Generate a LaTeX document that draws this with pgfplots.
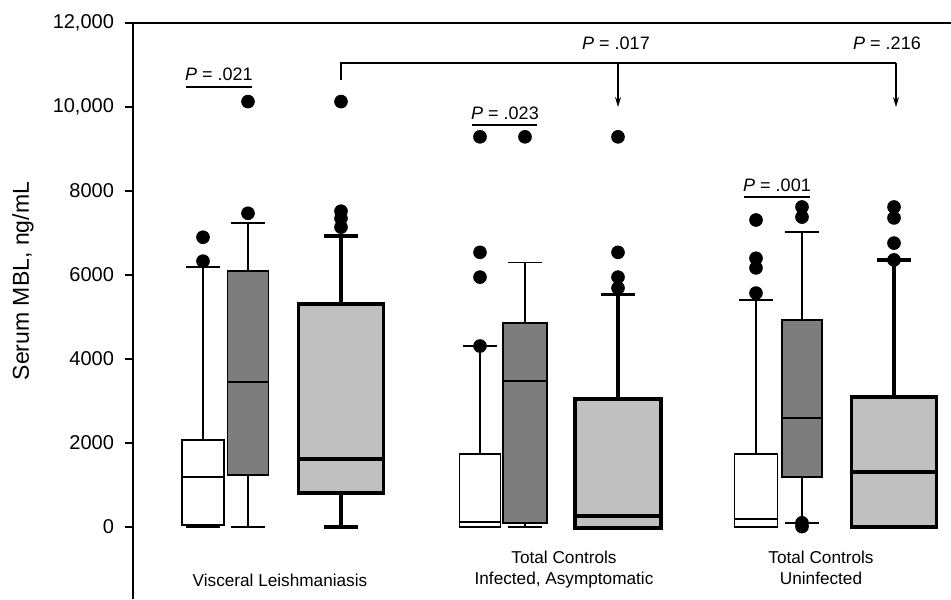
\documentclass[border=0pt]{standalone}
\usepackage{fontspec}
\setmainfont{Liberation Sans}
\usepackage{pgfplots}
\pgfplotsset{compat=1.18}
\usepgfplotslibrary{statistics}
\usetikzlibrary{arrows.meta}
\definecolor{darkbox}{RGB}{125,125,125}
\definecolor{lightbox}{RGB}{192,192,192}

\begin{document}
\begin{tikzpicture}[
    grp/.style={anchor=base, font=\fontsize{8.6}{10}\selectfont},
    pval/.style={anchor=base, font=\fontsize{9}{10}\selectfont},
]
\begin{axis}[
    scale only axis,
    width=409pt, height=288pt,
    xmin=0, xmax=818,
    ymin=-1714, ymax=12000,
    axis x line=none,
    axis y line*=left,
    axis line style={-, line width=0.8pt},
    scaled y ticks=false,
    ytick={0,2000,4000,6000,8000,10000,12000},
    yticklabels={0,2000,4000,6000,8000,{10,000},{12,000}},
    tick align=outside,
    major tick length=4pt,
    tick style={black, line width=0.8pt},
    tick label style={font=\fontsize{10}{12}\selectfont},
    yticklabel style={xshift=-2pt},
    ylabel={Serum MBL, ng/mL},
    ylabel style={at={(axis description cs:-0.1345,0.552)}, anchor=center, font=\fontsize{11.5}{13}\selectfont},
    clip=false,
    boxplot/draw direction=y,
    thinbox/.style={draw=black, line width=0.9pt, mark=*, mark size=3.2pt,
        mark options={fill=black, draw=black, line width=0.4pt}},
    thickbox/.style={draw=black, line width=1.8pt, mark=*, mark size=3.2pt,
        mark options={fill=black, draw=black, line width=0.4pt}},
    note/.style={black, line width=0.7pt},
]
% top border
\addplot[black, line width=0.8pt] coordinates {(0,12000) (818,12000)};

% Visceral Leishmaniasis
\addplot[thinbox, fill=white, boxplot prepared={draw position=70, box extend=42, whisker extend=34,
    median=1190, lower quartile=40, upper quartile=2070, lower whisker=0, upper whisker=6190}]
    coordinates {(0,6900) (0,6330)};
\addplot[thinbox, fill=darkbox, boxplot prepared={draw position=115, box extend=41, whisker extend=34,
    median=3450, lower quartile=1240, upper quartile=6100, lower whisker=0, upper whisker=7240}]
    coordinates {(0,7470) (0,10130)};
\addplot[thickbox, fill=lightbox, boxplot prepared={draw position=208, box extend=85, whisker extend=34,
    median=1620, lower quartile=810, upper quartile=5310, lower whisker=0, upper whisker=6930}]
    coordinates {(0,10130) (0,7520) (0,7350) (0,7140)};

% Total Controls, Infected, Asymptomatic
\addplot[thinbox, fill=white, boxplot prepared={draw position=347, box extend=41, whisker extend=34,
    median=120, lower quartile=0, upper quartile=1740, lower whisker=0, upper whisker=4310}]
    coordinates {(0,4310) (0,5950) (0,6540) (0,9290)};
\addplot[thinbox, fill=darkbox, boxplot prepared={draw position=392, box extend=44, whisker extend=34,
    median=3480, lower quartile=100, upper quartile=4850, lower whisker=0, upper whisker=6300}]
    coordinates {(0,9290)};
\addplot[thickbox, fill=lightbox, boxplot prepared={draw position=485, box extend=86, whisker extend=34,
    median=260, lower quartile=-20, upper quartile=3050, lower whisker=-20, upper whisker=5540}]
    coordinates {(0,5690) (0,5950) (0,6540) (0,9290)};

% Total Controls, Uninfected
\addplot[thinbox, fill=white, boxplot prepared={draw position=623, box extend=43, whisker extend=34,
    median=190, lower quartile=0, upper quartile=1740, lower whisker=0, upper whisker=5400}]
    coordinates {(0,5570) (0,6170) (0,6400) (0,7310)};
\addplot[thinbox, fill=darkbox, boxplot prepared={draw position=669, box extend=40, whisker extend=34,
    median=2590, lower quartile=1190, upper quartile=4930, lower whisker=100, upper whisker=7020}]
    coordinates {(0,7620) (0,7380) (0,100) (0,10)};
\addplot[thickbox, fill=lightbox, boxplot prepared={draw position=761, box extend=85, whisker extend=34,
    median=1310, lower quartile=0, upper quartile=3100, lower whisker=0, upper whisker=6360}]
    coordinates {(0,7620) (0,7360) (0,6760) (0,6360)};

% P value bars
\addplot[note] coordinates {(53,10480) (119,10480)};
\addplot[note] coordinates {(339,9570) (404,9570)};
\addplot[note] coordinates {(611,7860) (677,7860)};
\addplot[note] coordinates {(208,10640) (208,11050) (763,11050)};
\addplot[note, -{Stealth[length=5pt, width=3pt]}] coordinates {(485,11050) (485,10000)};
\addplot[note, -{Stealth[length=5pt, width=3pt]}] coordinates {(763,11050) (763,10000)};

\node[pval] at (axis cs:86,10620) {\textit{P} = .021};
\node[pval] at (axis cs:372,9710) {\textit{P} = .023};
\node[pval] at (axis cs:644,8000) {\textit{P} = .001};
\node[pval] at (axis cs:483,11360) {\textit{P} = .017};
\node[pval] at (axis cs:754,11360) {\textit{P} = .216};

% group labels
\node[grp] at (axis cs:147,-1405) {Visceral Leishmaniasis};
\node[grp] at (axis cs:431,-857) {Total Controls};
\node[grp] at (axis cs:431,-1380) {Infected, Asymptomatic};
\node[grp] at (axis cs:688,-857) {Total Controls};
\node[grp] at (axis cs:688,-1380) {Uninfected};

\coordinate (bl) at (axis cs:-133,-1714);
\coordinate (tr) at (axis cs:818,12548);
\end{axis}
\pgfresetboundingbox
\path[use as bounding box] (bl) rectangle (tr);
\end{tikzpicture}
\end{document}
